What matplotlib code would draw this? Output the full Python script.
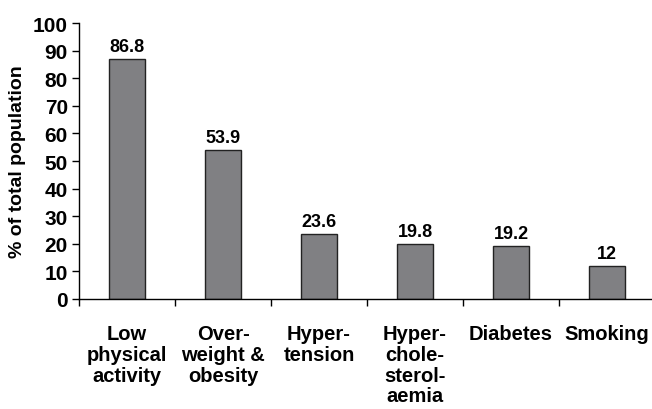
import numpy as np
import matplotlib
matplotlib.use("Agg")
import matplotlib.pyplot as plt
from matplotlib.ticker import FixedLocator

# ================================ Data =====================================
categories = ["Low\nphysical\nactivity", "Over-\nweight &\nobesity", "Hyper-\ntension",
              "Hyper-\nchole-\nsterol-\naemia", "Diabetes", "Smoking"]
values = [86.8, 53.9, 23.6, 19.8, 19.2, 12]
value_labels = ["86.8", "53.9", "23.6", "19.8", "19.2", "12"]

plt.rcParams['font.family'] = ['Liberation Sans', 'DejaVu Sans']
plt.rcParams['font.weight'] = 'bold'

W, H = 652, 410
fig = plt.figure(figsize=(W / 100, H / 100), dpi=100)
ax = fig.add_axes([79 / W, (H - 300) / H, (655 - 79) / W, (300 - 24) / H])

x = np.arange(len(values))
ax.bar(x, values, width=0.375, color="#808083", edgecolor="#222222", linewidth=1.0)

for xi, v, lab in zip(x, values, value_labels):
    ax.annotate(lab, (xi, v), xytext=(0, 3), textcoords="offset points",
                ha="center", va="bottom", fontsize=13, fontweight="bold")

ax.set_xlim(-0.5, len(values) - 0.5)
ax.set_ylim(0, 100)
ax.set_yticks(np.arange(0, 101, 10))
ax.tick_params(axis="y", direction="out", length=5, width=1, pad=3, labelsize=15)

ax.set_xticks(x)
ax.set_xticklabels(categories, fontsize=14.5, fontweight="bold", linespacing=1.12)
ax.tick_params(axis="x", which="major", length=0, pad=18)
ax.xaxis.set_minor_locator(FixedLocator(np.arange(-0.5, len(values), 1.0)))
ax.tick_params(axis="x", which="minor", direction="out", length=5, width=1)

for s in ["top", "right"]:
    ax.spines[s].set_visible(False)
for s in ["left", "bottom"]:
    ax.spines[s].set_linewidth(1)
ax.spines["bottom"].set_clip_on(False)

ax.set_ylabel("% of total population", fontsize=14, fontweight="bold", labelpad=5)

plt.savefig("out.png", dpi=100)
plt.close()
